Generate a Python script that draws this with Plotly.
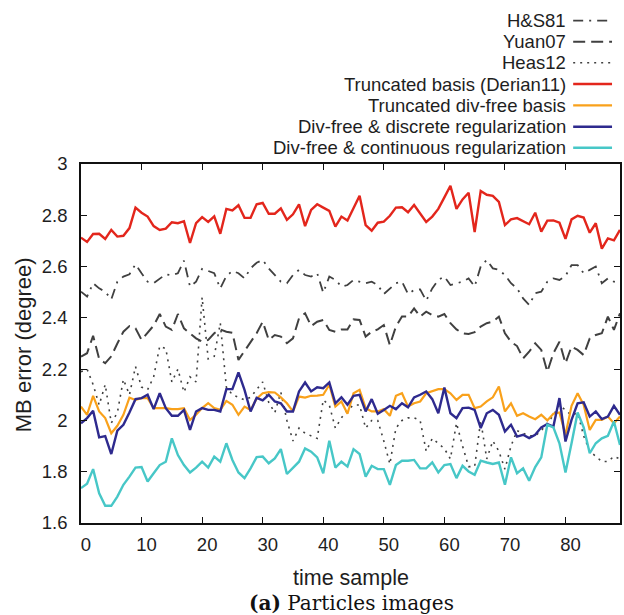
import plotly.graph_objects as go

t = list(range(90))

hs81 = [2.502, 2.483, 2.535, 2.515, 2.502, 2.472, 2.541, 2.561, 2.570, 2.609,
        2.574, 2.541, 2.535, 2.554, 2.570, 2.566, 2.574, 2.623, 2.522, 2.541,
        2.591, 2.583, 2.574, 2.515, 2.563, 2.583, 2.574, 2.554, 2.593, 2.615,
        2.626, 2.593, 2.567, 2.541, 2.535, 2.567, 2.587, 2.567, 2.561, 2.574,
        2.498, 2.561, 2.548, 2.522, 2.528, 2.548, 2.541, 2.535, 2.541, 2.528,
        2.493, 2.515, 2.535, 2.541, 2.493, 2.509, 2.511, 2.467, 2.515, 2.548,
        2.561, 2.528, 2.535, 2.541, 2.554, 2.522, 2.600, 2.626, 2.593, 2.587,
        2.567, 2.535, 2.515, 2.476, 2.450, 2.496, 2.502, 2.541, 2.554, 2.548,
        2.563, 2.606, 2.606, 2.574, 2.587, 2.600, 2.535, 2.554, 2.541, 2.535]

yuan07 = [2.249, 2.262, 2.330, 2.240, 2.223, 2.250, 2.300, 2.346, 2.368, 2.359,
          2.314, 2.340, 2.370, 2.415, 2.366, 2.353, 2.415, 2.359, 2.340, 2.320,
          2.307, 2.314, 2.340, 2.355, 2.346, 2.342, 2.236, 2.270, 2.307, 2.340,
          2.385, 2.314, 2.333, 2.327, 2.301, 2.320, 2.398, 2.418, 2.368, 2.385,
          2.392, 2.353, 2.346, 2.355, 2.355, 2.394, 2.392, 2.327, 2.346, 2.355,
          2.372, 2.294, 2.366, 2.405, 2.405, 2.437, 2.405, 2.424, 2.411, 2.405,
          2.415, 2.379, 2.355, 2.340, 2.337, 2.344, 2.366, 2.379, 2.385, 2.405,
          2.340, 2.307, 2.290, 2.242, 2.268, 2.301, 2.275, 2.190, 2.262, 2.307,
          2.223, 2.288, 2.275, 2.255, 2.320, 2.333, 2.340, 2.405, 2.353, 2.418]

heas12 = [2.19, 2.20, 2.14, 2.06, 2.14, 1.99, 2.03, 2.16, 2.10, 2.21,
          2.13, 2.12, 2.17, 2.29, 2.28, 2.15, 2.20, 2.11, 2.17, 2.15,
          2.48, 2.24, 2.25, 2.38, 2.13, 2.10, 2.09, 2.08, 2.09, 2.12,
          2.15, 2.07, 2.03, 2.11, 2.00, 1.92, 1.97, 1.95, 1.94, 1.93,
          2.08, 2.06, 1.97, 2.01, 2.04, 2.06, 2.06, 1.97, 2.00, 2.00,
          1.92, 1.83, 1.97, 2.00, 2.01, 2.01, 2.00, 1.88, 1.93, 1.91,
          1.89, 1.85, 1.99, 1.90, 1.82, 1.82, 2.00, 1.85, 1.92, 1.88,
          1.81, 1.90, 1.96, 1.95, 1.94, 1.94, 1.96, 1.99, 2.02, 2.06,
          2.04, 2.02, 2.03, 1.94, 1.88, 1.86, 1.84, 1.84, 1.86, 1.85]

trunc_basis = [2.713, 2.696, 2.727, 2.728, 2.708, 2.743, 2.717, 2.720, 2.750, 2.830,
               2.810, 2.795, 2.758, 2.743, 2.748, 2.773, 2.769, 2.777, 2.692, 2.769,
               2.793, 2.774, 2.796, 2.728, 2.825, 2.819, 2.839, 2.790, 2.790, 2.843,
               2.848, 2.806, 2.806, 2.827, 2.782, 2.804, 2.843, 2.758, 2.821, 2.843,
               2.830, 2.817, 2.756, 2.795, 2.780, 2.830, 2.876, 2.762, 2.740, 2.771,
               2.775, 2.798, 2.830, 2.831, 2.812, 2.840, 2.808, 2.774, 2.795, 2.825,
               2.870, 2.915, 2.825, 2.862, 2.888, 2.735, 2.895, 2.880, 2.876, 2.852,
               2.762, 2.784, 2.789, 2.777, 2.765, 2.810, 2.736, 2.779, 2.780, 2.771,
               2.708, 2.784, 2.798, 2.791, 2.732, 2.769, 2.670, 2.710, 2.702, 2.743]

trunc_divfree = [2.054, 2.022, 2.096, 2.035, 2.009, 1.950, 1.979, 2.022, 2.089, 2.080,
                 2.087, 2.087, 2.048, 2.048, 2.048, 2.044, 2.044, 2.048, 2.002, 2.022,
                 2.048, 2.067, 2.048, 2.041, 2.076, 2.061, 2.022, 2.054, 2.041, 2.085,
                 2.106, 2.110, 2.109, 2.090, 2.067, 2.035, 2.093, 2.089, 2.096, 2.097,
                 2.100, 2.139, 2.054, 2.074, 2.026, 2.106, 2.119, 2.048, 2.035, 2.035,
                 2.044, 2.018, 2.096, 2.106, 2.054, 2.067, 2.074, 2.106, 2.113, 2.122,
                 2.122, 2.106, 2.080, 2.100, 2.100, 2.048, 2.054, 2.074, 2.090, 2.132,
                 2.035, 2.067, 2.018, 2.028, 2.015, 2.005, 2.022, 2.000, 2.026, 2.031,
                 1.944, 2.057, 2.106, 2.061, 1.963, 2.002, 2.002, 2.015, 1.989, 2.015]

divfree_discrete = [1.989, 2.009, 2.038, 1.934, 1.939, 1.869, 1.960, 1.983, 2.031, 2.083,
                    2.087, 2.100, 2.044, 2.106, 2.048, 2.018, 2.018, 2.041, 1.963, 2.035,
                    2.048, 2.041, 2.041, 2.035, 2.122, 2.122, 2.187, 2.119, 2.035, 2.088,
                    2.078, 2.100, 2.074, 2.067, 2.035, 2.035, 2.113, 2.148, 2.113, 2.129,
                    2.126, 2.148, 2.067, 2.090, 2.061, 2.096, 2.100, 2.035, 2.083, 2.026,
                    2.041, 2.057, 2.044, 2.067, 2.051, 2.090, 2.100, 2.113, 2.083, 2.028,
                    2.128, 2.028, 2.009, 2.048, 2.050, 2.041, 1.970, 2.028, 2.041, 2.022,
                    1.957, 1.983, 1.937, 1.944, 1.931, 1.944, 1.973, 1.986, 1.976, 2.087,
                    1.918, 2.002, 2.067, 2.071, 2.015, 2.035, 2.005, 2.015, 2.057, 2.022]

divfree_continuous = [1.736, 1.753, 1.810, 1.716, 1.667, 1.667, 1.703, 1.749, 1.781, 1.816,
                      1.818, 1.762, 1.794, 1.826, 1.839, 1.930, 1.865, 1.826, 1.797, 1.816,
                      1.839, 1.816, 1.859, 1.839, 1.911, 1.846, 1.797, 1.775, 1.813, 1.857,
                      1.859, 1.833, 1.852, 1.888, 1.791, 1.816, 1.839, 1.891, 1.878, 1.856,
                      1.794, 1.921, 1.816, 1.839, 1.820, 1.888, 1.869, 1.781, 1.823, 1.810,
                      1.810, 1.749, 1.826, 1.843, 1.843, 1.846, 1.813, 1.813, 1.836, 1.797,
                      1.826, 1.830, 1.775, 1.823, 1.801, 1.788, 1.843, 1.836, 1.830, 1.836,
                      1.749, 1.856, 1.794, 1.813, 1.765, 1.818, 1.856, 1.983, 1.973, 1.911,
                      1.797, 1.911, 2.031, 1.973, 1.872, 1.911, 1.930, 1.940, 1.996, 1.904]

names = ["H&S81", "Yuan07", "Heas12", "Truncated basis (Derian11)",
         "Truncated div-free basis", "Div-free & discrete regularization",
         "Div-free & continuous regularization"]
values = [hs81, yuan07, heas12, trunc_basis, trunc_divfree,
          divfree_discrete, divfree_continuous]
colors = ["#404040", "#404040", "#404040", "#e3261c", "#f9a11b", "#2e2a8e", "#47c7c7"]
widths = [1.8, 2.0, 1.6, 2.4, 2.2, 2.4, 2.4]
dashes = ["10px,6px,2px,6px", "12px,6px", "2px,5px", "solid", "solid", "solid", "solid"]

yticks = [1.6, 1.8, 2.0, 2.2, 2.4, 2.6, 2.8, 3.0]
ytick_text = ["1.6", "1.8", "2", "2.2", "2.4", "2.6", "2.8", "3"]
xticks = [0, 10, 20, 30, 40, 50, 60, 70, 80]

FONT = "Liberation Sans, Arial, Helvetica, sans-serif"
TXT = "#1e1e1e"

fig = go.Figure()
for n, v, c, w, d in zip(names, values, colors, widths, dashes):
    fig.add_trace(go.Scatter(x=t, y=v, mode="lines", name=n, showlegend=False,
                             line=dict(color=c, width=w, dash=d)))

# plot area in pixels
L, R, T, B = 81, 622, 164, 523
W, H = R - L, B - T

def px_x(p):
    return (p - L) / W

def px_y(p):
    return (B - p) / H

annotations = []
shapes = []
row_y = [20.7, 41.7, 62.7, 84.0, 105.3, 126.7, 147.7]
for n, c, w, d, ry in zip(names, colors, widths, dashes, row_y):
    annotations.append(dict(x=px_x(569), y=px_y(ry), xref="paper", yref="paper",
                            text=n.replace("&", "&amp;"), showarrow=False,
                            xanchor="right", yanchor="middle", borderpad=0,
                            font=dict(family=FONT, size=18.5, color=TXT)))
    shapes.append(dict(type="line", xref="paper", yref="paper",
                       x0=px_x(575), x1=px_x(614), y0=px_y(ry), y1=px_y(ry),
                       line=dict(color=c, width=w, dash=d)))

annotations.append(dict(x=px_x(23), y=px_y(345), xref="paper", yref="paper",
                        text="MB error (degree)", textangle=-90, showarrow=False,
                        xanchor="center", yanchor="middle",
                        font=dict(family=FONT, size=22, color=TXT)))
annotations.append(dict(x=px_x(352), y=px_y(578), xref="paper", yref="paper",
                        text="time sample", showarrow=False,
                        xanchor="center", yanchor="middle",
                        font=dict(family=FONT, size=21.5, color=TXT)))
annotations.append(dict(x=px_x(353), y=px_y(603), xref="paper", yref="paper",
                        text="<b>(a)</b> Particles images", showarrow=False,
                        xanchor="center", yanchor="middle",
                        font=dict(family="DejaVu Serif, serif", size=20, color="#111")))

axis_common = dict(showgrid=False, zeroline=False, showline=True, linecolor="#111",
                   linewidth=1.6, mirror="ticks", ticks="inside", ticklen=6,
                   tickwidth=1.2, tickcolor="#111",
                   tickfont=dict(family=FONT, size=18.5, color=TXT))

fig.update_layout(
    width=624, height=615,
    margin=dict(l=L, r=624 - R, t=T, b=615 - B),
    paper_bgcolor="white", plot_bgcolor="white",
    xaxis=dict(range=[0, 89], tickvals=xticks, ticklabelstandoff=4,
               ticklabelshift=5, **axis_common),
    yaxis=dict(range=[1.6, 3.0], tickvals=yticks, ticktext=ytick_text,
               ticklabelstandoff=8, **axis_common),
    annotations=annotations,
    shapes=shapes,
)

fig.write_html("out.html")
